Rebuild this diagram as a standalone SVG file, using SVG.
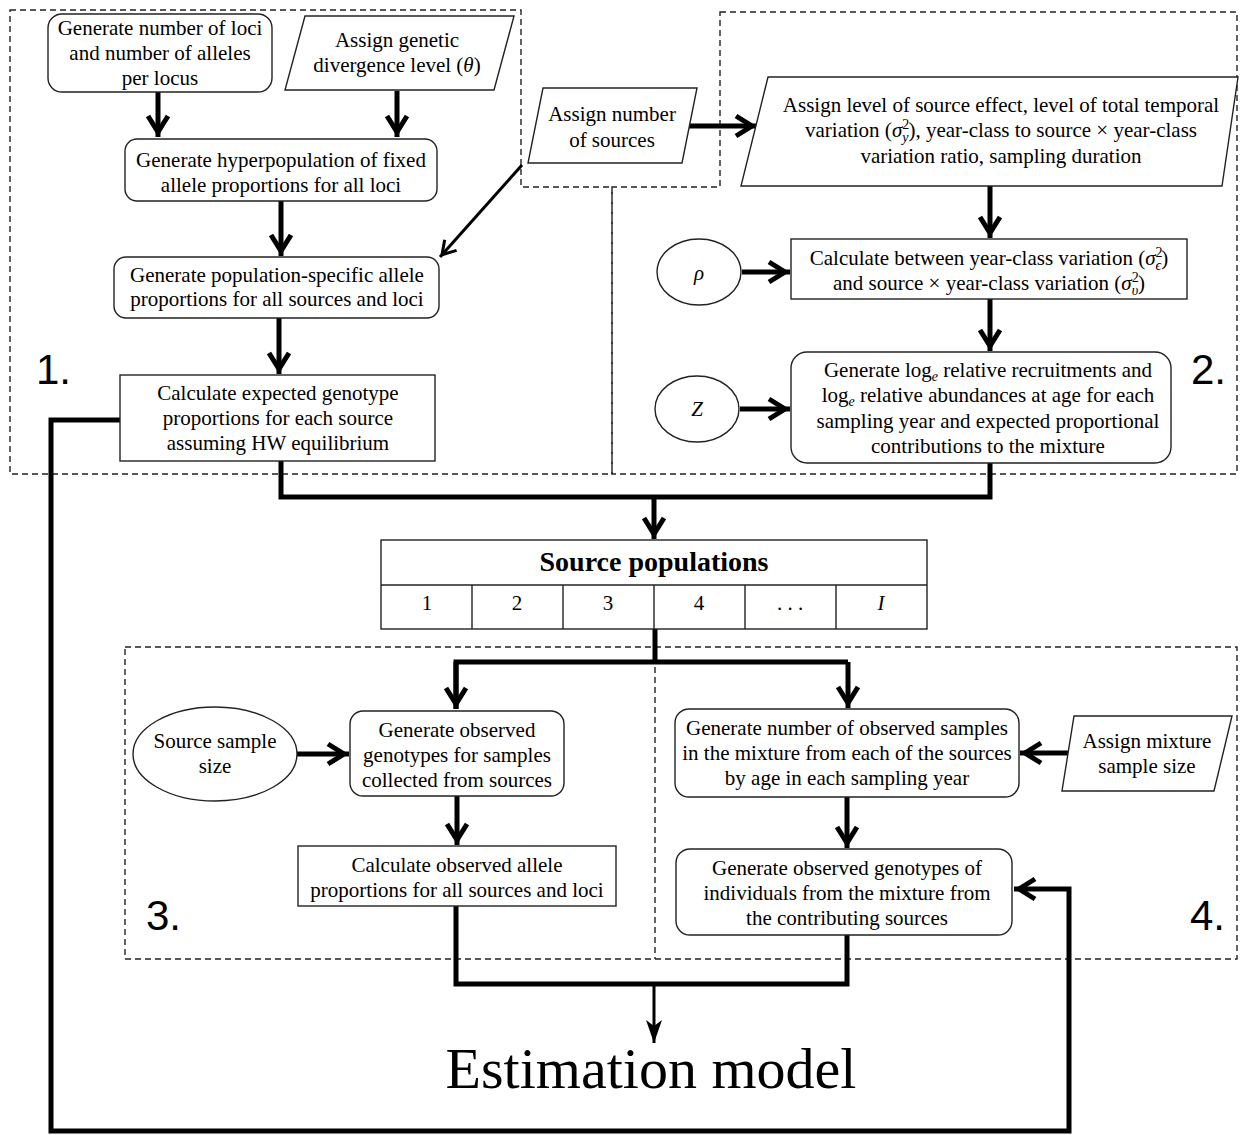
<svg xmlns="http://www.w3.org/2000/svg" width="1244" height="1135" viewBox="0 0 1244 1135">
<style>
text{font-family:"Liberation Serif","Times New Roman",serif;font-size:21px;fill:#000;text-anchor:middle}
.box{fill:#fff;stroke:#222;stroke-width:1.4}
.region{fill:none;stroke:#222;stroke-width:1.4;stroke-dasharray:6,4}
.num{font-family:"Liberation Sans",Arial,sans-serif;font-size:42px;text-anchor:start}
.c{fill:none;stroke:#000;stroke-width:5}
.thin{fill:none;stroke:#000;stroke-width:3}
.it{font-style:italic}
.sm{font-size:14px}
.title{font-size:28px;font-weight:bold}
.big{font-size:58px}
</style>
<defs>
<marker id="ah" markerUnits="userSpaceOnUse" markerWidth="32" markerHeight="28" viewBox="0 0 32 28" refX="26" refY="14" orient="auto" overflow="visible">
<path d="M5,4 L21,14 L5,24" fill="none" stroke="#000" stroke-width="5"/>
</marker>
<marker id="ahs" markerUnits="userSpaceOnUse" markerWidth="24" markerHeight="20" viewBox="0 0 24 20" refX="20" refY="10" orient="auto" overflow="visible">
<path d="M4,2 L17,10 L4,18" fill="none" stroke="#000" stroke-width="3"/>
</marker>
<marker id="dart" markerUnits="userSpaceOnUse" markerWidth="24" markerHeight="20" viewBox="0 0 24 20" refX="23" refY="10" orient="auto" overflow="visible">
<path d="M0,2 L23,10 L0,18 L6,10 Z" fill="#000"/>
</marker>
</defs>
<rect width="1244" height="1135" fill="#fff"/>

<g id="regions">
<path class="region" d="M10,10 H521 V187 H612 V474 H10 Z"/>
<path class="region" d="M720,12 H1237 V474 H612 V187 H720 Z"/>
<rect class="region" x="125" y="647" width="1112" height="312"/>
<line class="region" x1="655" y1="647" x2="655" y2="959"/>
<text class="num" x="36" y="384">1.</text>
<text class="num" x="1191" y="384">2.</text>
<text class="num" x="146" y="930">3.</text>
<text class="num" x="1190" y="930">4.</text>
</g>

<g id="connectors">
<path class="c" d="M158,92 V137" marker-end="url(#ah)"/>
<path class="c" d="M397,91 V137" marker-end="url(#ah)"/>
<path class="c" d="M281,201 V256" marker-end="url(#ah)"/>
<path class="c" d="M279,318 V374" marker-end="url(#ah)"/>
<path class="thin" d="M522,165 L440,257" marker-end="url(#ahs)"/>
<path class="c" d="M687,126 H757" marker-end="url(#ah)"/>
<path class="c" d="M990,186 V238" marker-end="url(#ah)"/>
<path class="c" d="M742,272 H790" marker-end="url(#ah)"/>
<path class="c" d="M990,299 V351" marker-end="url(#ah)"/>
<path class="c" d="M740,409 H790" marker-end="url(#ah)"/>
<path class="c" d="M281,461 V497 H990 V463"/>
<path class="c" d="M654,497 V539" marker-end="url(#ah)"/>
<path class="c" d="M655,629 V662"/>
<path class="c" d="M456,709 V662 H848"/>
<path class="c" d="M456,662 V709" marker-end="url(#ah)"/>
<path class="c" d="M848,662 V708" marker-end="url(#ah)"/>
<path class="c" d="M297,754 H349" marker-end="url(#ah)"/>
<path class="c" d="M457,796 V845" marker-end="url(#ah)"/>
<path class="c" d="M1068,753 H1020" marker-end="url(#ah)"/>
<path class="c" d="M847,797 V848" marker-end="url(#ah)"/>
<path class="c" d="M456,906 V984 H847 V935"/>
<path class="thin" d="M654,984 V1043" marker-end="url(#dart)"/>
<path class="c" d="M120,420 H51 V1131 H1069 V889 H1014" marker-end="url(#ah)"/>
</g>

<g id="n-loci">
<rect class="box" x="48" y="14" width="224" height="78" rx="14"/>
<text x="160" y="35">Generate number of loci</text>
<text x="160" y="60">and number of alleles</text>
<text x="160" y="85">per locus</text>
</g>

<g id="n-divergence">
<path class="box" d="M305,16 L514,16 L494,90 L285,90 Z"/>
<text x="397" y="47">Assign genetic</text>
<text x="397" y="72">divergence level (<tspan class="it">θ</tspan>)</text>
</g>

<g id="n-hyper">
<rect class="box" x="125" y="139" width="312" height="62" rx="12"/>
<text x="281" y="167">Generate hyperpopulation of fixed</text>
<text x="281" y="192">allele proportions for all loci</text>
</g>

<g id="n-popspec">
<rect class="box" x="114" y="257" width="325" height="61" rx="12"/>
<text x="277" y="282">Generate population-specific allele</text>
<text x="277" y="306">proportions for all sources and loci</text>
</g>

<g id="n-expected">
<rect class="box" x="120" y="375" width="315" height="86"/>
<text x="278" y="400">Calculate expected genotype</text>
<text x="278" y="425">proportions for each source</text>
<text x="278" y="450">assuming HW equilibrium</text>
</g>

<g id="n-nsources">
<path class="box" d="M543,88 L697,88 L682,163 L528,163 Z"/>
<text x="612" y="121">Assign number</text>
<text x="612" y="147">of sources</text>
</g>

<g id="n-temporal">
<path class="box" d="M768,77 L1238,77 L1222,186 L741,186 Z"/>
<text x="1001" y="112">Assign level of source effect, level of total temporal</text>
<text x="1001" y="137">variation (<tspan class="it">σ</tspan><tspan class="sm" dy="-8">2</tspan><tspan class="sm it" dx="-7" dy="13">y</tspan><tspan dy="-5">), year-class to source × year-class</tspan></text>
<text x="1001" y="163">variation ratio, sampling duration</text>
</g>

<g id="n-rho">
<ellipse class="box" cx="699" cy="272" rx="42" ry="33"/>
<text class="it" x="699" y="280">ρ</text>
</g>

<g id="n-between">
<rect class="box" x="791" y="239" width="396" height="60"/>
<text x="989" y="265">Calculate between year-class variation (<tspan class="it">σ</tspan><tspan class="sm" dy="-8">2</tspan><tspan class="sm it" dx="-7" dy="13">ϵ</tspan><tspan dy="-5">)</tspan></text>
<text x="989" y="290">and source × year-class variation (<tspan class="it">σ</tspan><tspan class="sm" dy="-8">2</tspan><tspan class="sm it" dx="-7" dy="13">υ</tspan><tspan dy="-5">)</tspan></text>
</g>

<g id="n-z">
<ellipse class="box" cx="697" cy="409" rx="42" ry="33"/>
<text class="it" x="697" y="416">Z</text>
</g>

<g id="n-recruit">
<rect class="box" x="791" y="352" width="380" height="111" rx="16"/>
<text x="988" y="377">Generate log<tspan class="sm it" dy="4">e</tspan><tspan dy="-4"> relative recruitments and</tspan></text>
<text x="988" y="402">log<tspan class="sm it" dy="4">e</tspan><tspan dy="-4"> relative abundances at age for each</tspan></text>
<text x="988" y="428">sampling year and expected proportional</text>
<text x="988" y="453">contributions to the mixture</text>
</g>

<g id="n-sourcepops">
<rect class="box" x="381" y="540" width="546" height="89"/>
<line class="box" x1="381" y1="585" x2="927" y2="585"/>
<line class="box" x1="472" y1="585" x2="472" y2="629"/>
<line class="box" x1="563" y1="585" x2="563" y2="629"/>
<line class="box" x1="654" y1="585" x2="654" y2="629"/>
<line class="box" x1="745" y1="585" x2="745" y2="629"/>
<line class="box" x1="836" y1="585" x2="836" y2="629"/>
<text class="title" x="654" y="571">Source populations</text>
<text x="427" y="610">1</text>
<text x="517" y="610">2</text>
<text x="608" y="610">3</text>
<text x="699" y="610">4</text>
<text x="790" y="610">. . .</text>
<text class="it" x="881" y="610">I</text>
</g>

<g id="n-sss">
<ellipse class="box" cx="215" cy="754" rx="82" ry="47"/>
<text x="215" y="748">Source sample</text>
<text x="215" y="773">size</text>
</g>

<g id="n-obsgeno">
<rect class="box" x="350" y="711" width="214" height="85" rx="13"/>
<text x="457" y="737">Generate observed</text>
<text x="457" y="762">genotypes for samples</text>
<text x="457" y="787">collected from sources</text>
</g>

<g id="n-obsallele">
<rect class="box" x="298" y="846" width="318" height="60"/>
<text x="457" y="872">Calculate observed allele</text>
<text x="457" y="897">proportions for all sources and loci</text>
</g>

<g id="n-nobs">
<rect class="box" x="675" y="709" width="344" height="88" rx="14"/>
<text x="847" y="735">Generate number of observed samples</text>
<text x="847" y="760">in the mixture from each of the sources</text>
<text x="847" y="785">by age in each sampling year</text>
</g>

<g id="n-mixsize">
<path class="box" d="M1074,716 L1232,716 L1214,791 L1062,791 Z"/>
<text x="1147" y="748">Assign mixture</text>
<text x="1147" y="773">sample size</text>
</g>

<g id="n-mixgeno">
<rect class="box" x="676" y="849" width="336" height="86" rx="14"/>
<text x="847" y="875">Generate observed genotypes of</text>
<text x="847" y="900">individuals from the mixture from</text>
<text x="847" y="925">the contributing sources</text>
</g>

<g id="n-estimation">
<text class="big" x="651" y="1088">Estimation model</text>
</g>
</svg>
